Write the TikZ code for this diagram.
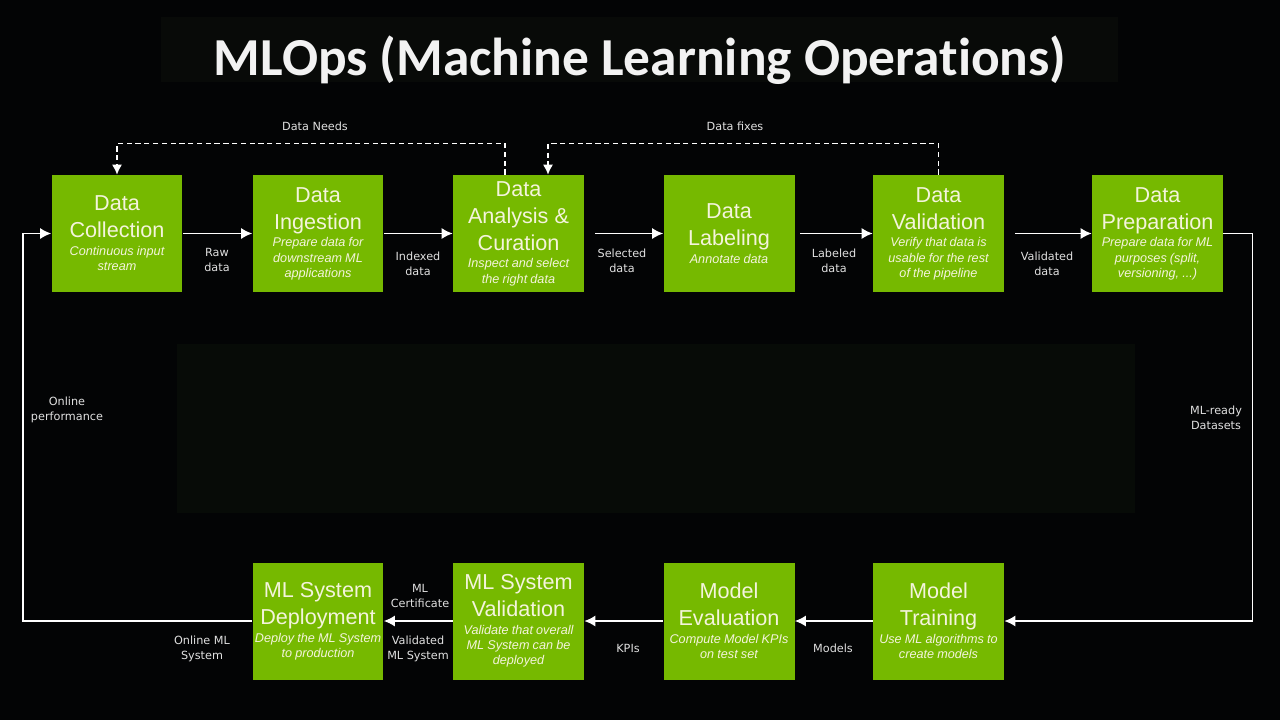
\documentclass[tikz,border=0pt]{standalone}
\usepackage{fontspec}
\setmainfont{Liberation Sans}
\newfontfamily\titlefont{Carlito}[Ligatures=NoCommon]
\newfontfamily\labelfont{DejaVu Sans}
\newfontfamily\subfamily{Liberation Sans}[WordSpace=0.9]
\usepackage{xcolor}
\usetikzlibrary{arrows.meta}

\definecolor{nvgreen}{HTML}{76B900}
\definecolor{boxtext}{HTML}{F4F4DC}
\definecolor{bgdark}{HTML}{030405}
\definecolor{panel}{HTML}{070B07}
\definecolor{titlebar}{HTML}{080A08}

\newcommand{\stagetitle}[1]{{\fontsize{12.3}{15.4}\selectfont #1\par}}
\newcommand{\stagesub}[1]{\vspace{1.5pt}{\subfamily\itshape\fontsize{7.2}{8.6}\selectfont #1\par}}

\begin{document}
\begin{tikzpicture}[
    x=0.02cm, y=-0.02cm,
    stage/.style={rectangle, fill=nvgreen, text=boxtext, minimum width=2.62cm,
                  minimum height=2.34cm, text width=2.62cm, inner sep=0pt,
                  align=flush center},
    flow/.style={-{Latex[length=2.2mm, width=2.2mm]}, white, line width=0.8pt},
    feedback/.style={-{Latex[length=2mm, width=2mm]}, white, line width=0.7pt,
                     dash pattern=on 3pt off 2pt},
    lbl/.style={text=white!88!black, font=\labelfont\fontsize{6.4}{8.5}\selectfont,
                align=center, inner sep=0pt}
]
% background and panels
\fill[bgdark] (0,0) rectangle (1280,720);
\useasboundingbox (0,0) rectangle (1280,720);
\fill[titlebar] (161,17) rectangle (1118,82);
\fill[panel] (177,344) rectangle (1135,513);
\node[text=white!95!black, font=\titlefont\bfseries\fontsize{30.4}{36}\selectfont]
    (title) at (640,60) {MLOps (Machine Learning Operations)};

% upper row
\node[stage] (collect) at (117,233.5)
    {\stagetitle{Data\\Collection}\stagesub{Continuous input\\stream}};
\node[stage] (ingest) at (318,233.5)
    {\stagetitle{Data\\Ingestion}\stagesub{Prepare data for\\downstream ML\\applications}};
\node[stage] (curate) at (518.5,233.5)
    {\stagetitle{Data\\Analysis \&\\Curation}\stagesub{Inspect and select\\the right data}};
\node[stage] (label) at (729,233.5)
    {\stagetitle{Data\\Labeling}\stagesub{Annotate data}};
\node[stage] (validate) at (938.5,233.5)
    {\stagetitle{Data\\Validation}\stagesub{Verify that data is\\usable for the rest\\of the pipeline}};
\node[stage] (prepare) at (1157.5,233.5)
    {\stagetitle{Data\\Preparation}\stagesub{Prepare data for ML\\purposes (split,\\versioning, ...)}};

% lower row
\node[stage] (train) at (938.5,621)
    {\stagetitle{Model\\Training}\stagesub{Use ML algorithms to\\create models}};
\node[stage] (evaluate) at (729,621)
    {\stagetitle{Model\\Evaluation}\stagesub{Compute Model KPIs\\on test set}};
\node[stage] (sysval) at (518.5,621)
    {\stagetitle{ML System\\Validation}\stagesub{Validate that overall\\ML System can be\\deployed}};
\node[stage] (deploy) at (318,621)
    {\stagetitle{ML System\\Deployment}\stagesub{Deploy the ML System\\to production}};

% main flow
\draw[flow] (collect) -- (ingest);
\draw[flow] (ingest) -- (curate);
\draw[flow, shorten <=6pt] (curate) -- (label);
\draw[flow, shorten <=3pt] (label) -- (validate);
\draw[flow, shorten <=6pt] (validate) -- (prepare);
\draw[flow] (prepare.east) -- ++(29,0) |- (train.east);
\draw[flow] (train) -- (evaluate);
\draw[flow] (evaluate) -- (sysval);
\draw[flow] (sysval) -- (deploy);
\draw[flow] (deploy.west) -- ++(-229,0) |- (collect.west);

% feedback loops
\draw[feedback] ([xshift=-0.27cm]curate.north) -- ++(0,-31) -| (collect.north);
\draw[feedback] (validate.north) -- ++(0,-31) -| ([xshift=0.59cm]curate.north);

% connector labels
\node[lbl] (lneeds) at (315,126) {Data Needs};
\node[lbl] (lfixes) at (735,126) {Data fixes};
\node[lbl] (lraw) at (217,260) {Raw\\data};
\node[lbl] (lindexed) at (418,264) {Indexed\\data};
\node[lbl] (lselected) at (622,261) {Selected\\data};
\node[lbl] (llabeled) at (834,261) {Labeled\\data};
\node[lbl] (lvalidated) at (1047,264) {Validated\\data};
\node[lbl] (lready) at (1216,418) {ML-ready\\Datasets};
\node[lbl] (lmodels) at (833,648) {Models};
\node[lbl] (lkpis) at (628,648) {KPIs};
\node[lbl] (lcert) at (420,596) {ML\\Certificate};
\node[lbl] (lvalsys) at (418,649) {Validated\\ML System};
\node[lbl] (lonline) at (202,649) {Online ML\\System};
\node[lbl] (lperf) at (67,410) {Online\\performance};
\end{tikzpicture}
\end{document}
